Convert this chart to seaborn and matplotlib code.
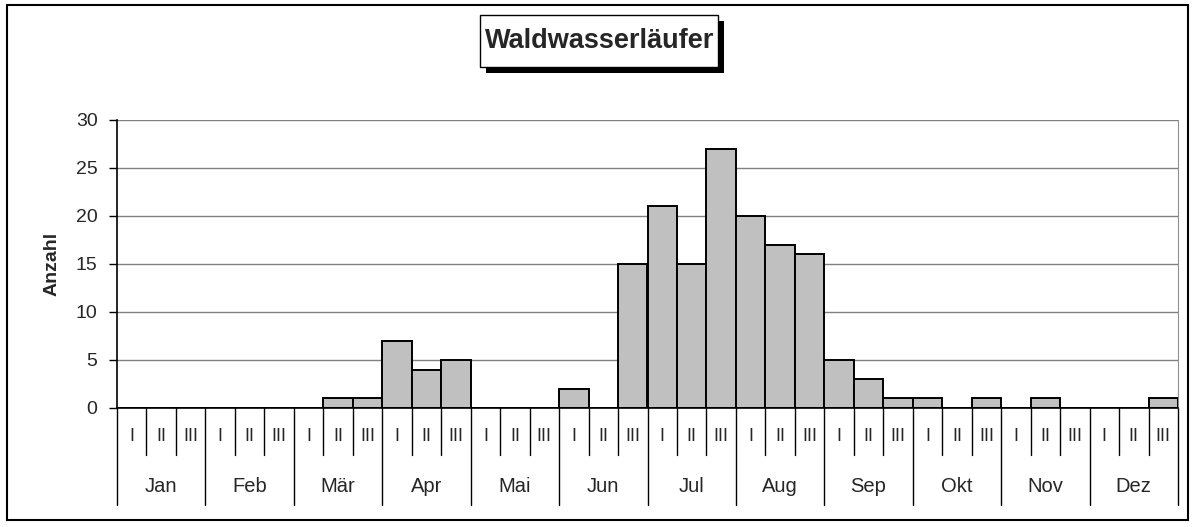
import matplotlib
matplotlib.use("Agg")
import matplotlib.pyplot as plt
import matplotlib.transforms as mtransforms
from matplotlib.patches import Rectangle
import pandas as pd
import seaborn as sns

# Waldwasserlaeufer, Anzahl je Monatsdekade
months = ["Jan", "Feb", "Mär", "Apr", "Mai", "Jun",
          "Jul", "Aug", "Sep", "Okt", "Nov", "Dez"]
decades = ["I", "II", "III"]
counts = [0, 0, 0,
          0, 0, 0,
          0, 1, 1,
          7, 4, 5,
          0, 0, 0,
          2, 0, 15,
          21, 15, 27,
          20, 17, 16,
          5, 3, 1,
          1, 0, 1,
          0, 1, 0,
          0, 0, 1]
title = "Waldwasserläufer"
ylabel = "Anzahl"
yticks = [0, 5, 10, 15, 20, 25, 30]

slots = [f"{m} {d}" for m in months for d in decades]
df = pd.DataFrame({"slot": slots, "anzahl": counts})

sns.set_style("white")
plt.rcParams["font.family"] = ["Liberation Sans", "DejaVu Sans"]

W, H = 1192, 527
fig = plt.figure(figsize=(W / 100, H / 100), dpi=100)
ax = fig.add_axes([117 / W, 1 - 408 / H, (1178 - 117) / W, (408 - 120) / H])

sns.barplot(data=df, x="slot", y="anzahl", order=slots, color="#C0C0C0",
            saturation=1, edgecolor="black", linewidth=1.4, width=1.0, ax=ax,
            zorder=3)

ax.set_xlim(-0.5, len(slots) - 0.5)
ax.set_ylim(0, 30)
ax.set_yticks(yticks)
ax.set_yticklabels([str(t) for t in yticks], fontsize=14)
ax.tick_params(axis="y", length=6, width=1, color="black", pad=8, left=True)
ax.set_xticks([])
ax.set_xlabel("")
ax.set_ylabel(ylabel, fontsize=14, fontweight="bold", labelpad=11)
ax.yaxis.grid(True, color="#808080", linewidth=1)
ax.set_axisbelow(True)

for side in ["left", "bottom"]:
    ax.spines[side].set_color("black")
    ax.spines[side].set_linewidth(1.2)
ax.spines["right"].set_color("#909090")
ax.spines["top"].set_visible(False)
ax.spines["bottom"].set_zorder(4)

# category axis: decade ticks and month separators below the zero line
trans = mtransforms.blended_transform_factory(ax.transData, ax.transAxes)
for i in range(len(slots) + 1):
    depth = -0.337 if i % 3 == 0 else -0.163
    ax.plot([i - 0.5, i - 0.5], [0, depth], transform=trans, clip_on=False,
            color="black", linewidth=1)
for i, s in enumerate(slots):
    ax.text(i, -0.10, decades[i % 3], transform=trans, ha="center",
            va="center", fontsize=13)
for j, m in enumerate(months):
    ax.text(3 * j + 1, -0.274, m, transform=trans, ha="center",
            va="center", fontsize=14.5)

# outer frame
fig.add_artist(Rectangle((7 / W, 1 - 520 / H), (1188 - 7) / W, (520 - 5) / H,
                         transform=fig.transFigure, fill=False,
                         edgecolor="black", linewidth=1.5))

# title box with shadow
fig.add_artist(Rectangle((486 / W, 1 - 73 / H), (718 - 480) / W, (67 - 15) / H,
                         transform=fig.transFigure, facecolor="black",
                         edgecolor="black", linewidth=0))
fig.add_artist(Rectangle((480 / W, 1 - 67 / H), (718 - 480) / W, (67 - 15) / H,
                         transform=fig.transFigure, facecolor="white",
                         edgecolor="black", linewidth=1))
fig.text(600 / W, 1 - 41 / H, title, ha="center", va="center",
         fontsize=19.5, fontweight="bold")

fig.savefig("out.png", dpi=100)
